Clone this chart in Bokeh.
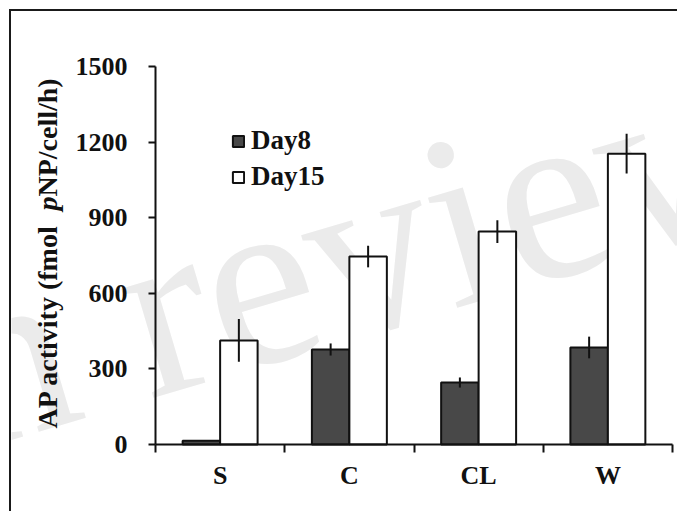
import numpy as np
from bokeh.plotting import figure
from bokeh.models import (Range1d, FixedTicker, Label, Legend, LegendItem,
                          ColumnDataSource)
from bokeh.embed import file_html
from bokeh.resources import INLINE

# ---------------- data ----------------
categories = ["S", "C", "CL", "W"]
series_names = ["Day8", "Day15"]
day8 = [15, 377, 246, 385]
day8_err = [0, 24, 20, 43]
day15 = [413, 746, 845, 1154]
day15_err = [85, 43, 45, 79]
y_ticks = [0, 300, 600, 900, 1200, 1500]

FONT = "Liberation Serif"
INK = "#111111"
DARK = "#484848"

# ---------------- layout (pixels) ----------------
W, H = 668, 502          # canvas size
OX, OY = 144, 433        # canvas pixel of the data origin
CW = 129.25              # pixels per category
SY = 378.0 / 1500.0      # pixels per y unit

idx = np.arange(len(categories))
centers = idx + 0.5
off = 0.145
bw = 0.29

p = figure(width=W, height=H, output_backend="svg", toolbar_location=None,
           x_range=Range1d(-OX / CW, (W - OX) / CW),
           y_range=Range1d(-(H - OY) / SY, OY / SY),
           min_border=0)
p.styles = {"border-top": "2px solid #1a1a1a", "border-left": "2px solid #1a1a1a",
            "margin-left": "9px", "margin-top": "9px"}
p.outline_line_color = None
p.grid.visible = False
p.background_fill_color = "white"
p.border_fill_color = "white"

# watermark
wm = Label(x=-144, y=118, x_units="screen", y_units="screen", text="In review",
           angle=0.288, text_font=FONT, text_font_size="248px",
           text_color="#ebebeb", text_baseline="alphabetic", text_align="left",
           level="underlay")
p.add_layout(wm)

d8 = np.array(day8, dtype=float)
e8 = np.array(day8_err, dtype=float)
d15 = np.array(day15, dtype=float)
e15 = np.array(day15_err, dtype=float)

src8 = ColumnDataSource(dict(x=centers - off, top=d8, lo=d8 - e8, hi=d8 + e8))
src15 = ColumnDataSource(dict(x=centers + off, top=d15, lo=d15 - e15, hi=d15 + e15))

r8 = p.vbar(x="x", top="top", bottom=0, width=bw, source=src8,
            fill_color=DARK, line_color=INK, line_width=2)
r15 = p.vbar(x="x", top="top", bottom=0, width=bw, source=src15,
             fill_color="white", line_color=INK, line_width=2)
p.segment(x0="x", y0="lo", x1="x", y1="hi", source=src8, line_color=INK, line_width=2)
p.segment(x0="x", y0="lo", x1="x", y1="hi", source=src15, line_color=INK, line_width=2)

# x axis: labels at centers, ticks at boundaries
xa = p.xaxis[0]
xa.fixed_location = 0
xa.bounds = (0, len(categories))
xa.ticker = FixedTicker(ticks=[float(c) for c in centers],
                        minor_ticks=[float(i) for i in range(len(categories) + 1)])
xa.major_label_overrides = {float(c): cat for c, cat in zip(centers, categories)}
xa.major_tick_out = 0
xa.major_tick_in = 0
xa.minor_tick_out = 8
xa.minor_tick_in = 0
xa.minor_tick_line_width = 2
xa.minor_tick_line_color = INK
xa.axis_line_width = 2
xa.axis_line_color = INK
xa.major_label_standoff = 8
xa.major_label_text_font = FONT
xa.major_label_text_font_style = "bold"
xa.major_label_text_font_size = "26px"
xa.major_label_text_color = INK

ya = p.yaxis[0]
ya.fixed_location = 0
ya.bounds = (y_ticks[0], y_ticks[-1])
ya.ticker = FixedTicker(ticks=y_ticks, minor_ticks=[])
ya.major_tick_out = 7
ya.major_tick_in = 0
ya.minor_tick_out = 0
ya.minor_tick_in = 0
ya.major_tick_line_width = 2
ya.major_tick_line_color = INK
ya.axis_line_width = 2
ya.axis_line_color = INK
ya.major_label_standoff = 21
ya.major_label_text_font = FONT
ya.major_label_text_font_style = "bold"
ya.major_label_text_font_size = "26px"
ya.major_label_text_color = INK

# y axis title in pieces (italic p)
for txt, style, ypos in [("AP activity  (fmol ", "bold", 85),
                         ("p", "bold italic", 303),
                         ("NP/cell/h)", "bold", 317)]:
    p.add_layout(Label(x=36, y=ypos, x_units="screen", y_units="screen", text=txt,
                       angle=np.pi / 2, text_font=FONT, text_font_style=style,
                       text_font_size="28px", text_color=INK,
                       text_baseline="alphabetic", text_align="left"))

legend = Legend(items=[LegendItem(label=series_names[0], renderers=[r8]),
                       LegendItem(label=series_names[1], renderers=[r15])],
                location=(220, 321), orientation="vertical",
                glyph_width=14, glyph_height=14, label_standoff=6,
                label_text_font=FONT, label_text_font_style="bold",
                label_text_font_size="27px", label_text_color=INK,
                border_line_color=None, background_fill_alpha=0,
                padding=0, spacing=5, margin=0)
p.add_layout(legend)

open("out.html", "w").write(file_html(p, INLINE))
